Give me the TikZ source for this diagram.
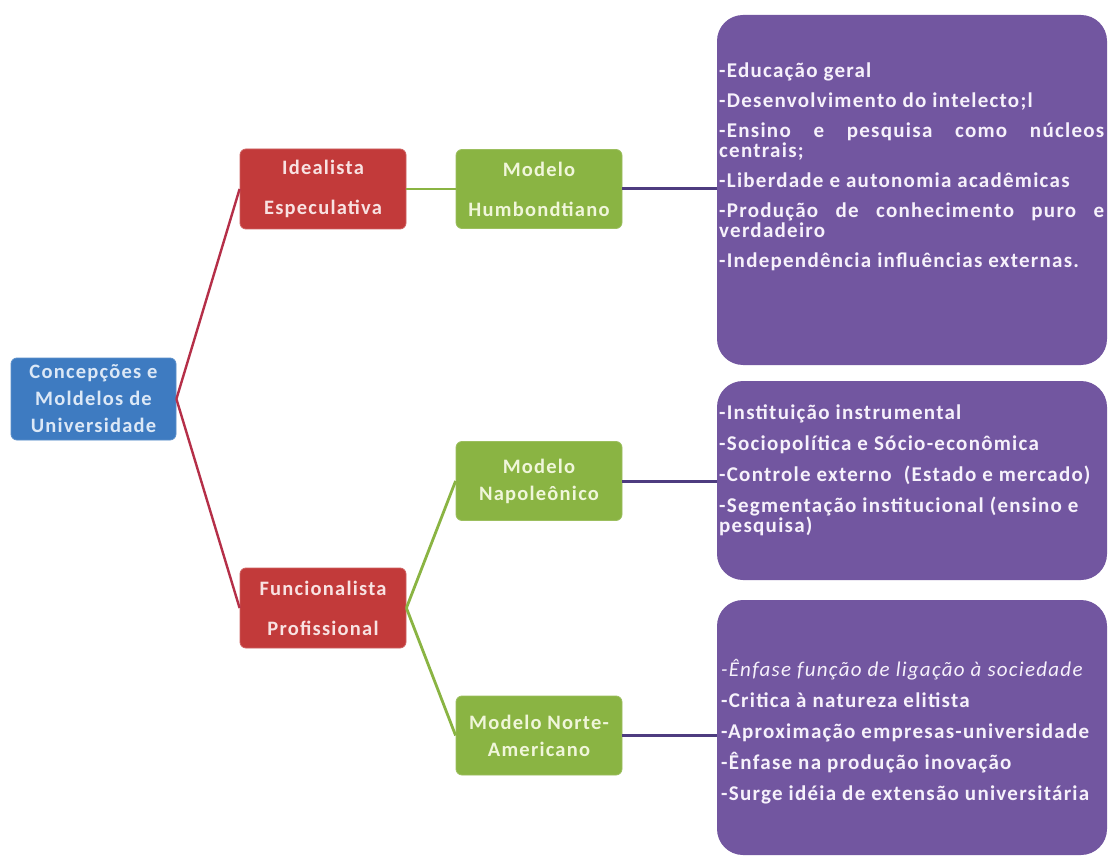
\documentclass[tikz,border=0pt]{standalone}
\usepackage{fontspec}
\setmainfont{Carlito}
\newfontfamily\boxfont[LetterSpace=6]{Carlito}
\definecolor{rootblue}{HTML}{3E7BC1}
\definecolor{redfill}{HTML}{C23A3A}
\definecolor{greenfill}{HTML}{8AB443}
\definecolor{purplefill}{HTML}{7256A0}
\definecolor{redline}{HTML}{B52F48}
\definecolor{greenline}{HTML}{8AB443}
\definecolor{purpleline}{HTML}{4E3C80}
\definecolor{roottext}{HTML}{DCE8F6}
\definecolor{redtext}{HTML}{F8E2E2}
\definecolor{greentext}{HTML}{F0F6DA}
\definecolor{purpletext}{HTML}{F6F1FB}
\newcommand\rowtxt[1]{\hbox{#1}}
\newcommand\justrow[1]{\hbox to 385pt{#1}}
\newcommand\gapP[1]{\vskip #1}
\tikzset{
  basebox/.style={inner sep=0pt, align=center, rounded corners=6pt,
    font=\boxfont\bfseries\fontsize{20.5}{27}\selectfont},
  rootbox/.style={basebox, fill=rootblue, draw=rootblue!85!white, line width=0.8pt,
    text=roottext, minimum width=165pt, minimum height=82pt},
  redbox/.style={basebox, fill=redfill, draw=redfill!80!white, line width=0.8pt,
    text=redtext, minimum width=166pt, minimum height=80pt},
  greenbox/.style={basebox, fill=greenfill, draw=greenfill!85!white, line width=0.8pt,
    text=greentext, minimum width=166pt, minimum height=79pt},
  wide/.style={font=\boxfont\bfseries\fontsize{20.5}{40}\selectfont},
  purplebox/.style={fill=purplefill, rounded corners=26pt, minimum width=390pt,
    inner sep=0pt},
  bodytext/.style={anchor=base west, inner sep=0pt, text=purpletext,
    font=\boxfont\bfseries\fontsize{21}{20}\selectfont},
  redcon/.style={draw=redline, line width=2.4pt},
  greencon/.style={draw=greenline, line width=2.8pt},
  purplecon/.style={draw=purpleline, line width=3pt}
}
\begin{document}
\begin{tikzpicture}[x=1pt, y=-1pt]
\useasboundingbox (0,0) rectangle (1109,861);
\fill[white] (0,0) rectangle (1109,861);

\node[rootbox] (root) at (93.5,399) {Concepções e\\Moldelos de\\Universidade};
\node[redbox, wide] (ideal) at (323,189) {Idealista\\Especulativa};
\node[redbox, wide] (func) at (323,608) {Funcionalista\\Profissional};
\node[greenbox, wide] (humb) at (539,189) {Modelo\\Humbondtiano};
\node[greenbox] (napo) at (539,481) {Modelo\\Napoleônico};
\node[greenbox] (norte) at (539,735.5) {Modelo Norte-\\Americano};

\node[purplebox, minimum height=350pt] (p1) at (912,190) {};
\node[purplebox, minimum height=199pt] (p2) at (912,480.5) {};
\node[purplebox, minimum height=255pt] (p3) at (912,727.5) {};

\node[bodytext] (t1) at (719,78) {\vtop{\hsize=385pt \baselineskip=20pt \lineskiplimit=-1000pt
\rowtxt{-Educação geral}\gapP{10pt}
\rowtxt{-Desenvolvimento do intelecto;l}\gapP{10pt}
\justrow{-Ensino\hfill e\hfill pesquisa\hfill como\hfill núcleos}
\rowtxt{centrais;}\gapP{10pt}
\rowtxt{-Liberdade e autonomia acadêmicas}\gapP{10pt}
\justrow{-Produção\hfill de\hfill conhecimento\hfill puro\hfill e}
\rowtxt{verdadeiro}\gapP{10pt}
\rowtxt{-Independência influências externas.}}};

\node[bodytext] (t2) at (719,419) {\vtop{\hsize=385pt \baselineskip=20pt \lineskiplimit=-1000pt
\rowtxt{-Instituição instrumental}\gapP{11pt}
\rowtxt{-Sociopolítica e Sócio-econômica}\gapP{11pt}
\rowtxt{-Controle externo~ (Estado e mercado)}\gapP{11pt}
\rowtxt{-Segmentação institucional (ensino e}
\rowtxt{pesquisa)}}};

\node[bodytext] (t3) at (721,676) {\vtop{\hsize=385pt \baselineskip=20pt \lineskiplimit=-1000pt
\rowtxt{\mdseries\itshape -Ênfase função de ligação à sociedade}\gapP{11pt}
\rowtxt{-Critica à natureza elitista}\gapP{11pt}
\rowtxt{-Aproximação empresas-universidade}\gapP{11pt}
\rowtxt{-Ênfase na produção inovação}\gapP{11pt}
\rowtxt{-Surge idéia de extensão universitária}}};

\draw[redcon] (root.east) -- (ideal.west);
\draw[redcon] (root.east) -- (func.west);
\draw[greencon] (ideal.east) -- (humb.west);
\draw[greencon] (func.east) -- (napo.west);
\draw[greencon] (func.east) -- (norte.west);
\draw[purplecon] (humb.east) -- (humb.east -| p1.west);
\draw[purplecon] (napo.east) -- (napo.east -| p2.west);
\draw[purplecon] (norte.east) -- (norte.east -| p3.west);
\end{tikzpicture}
\end{document}
